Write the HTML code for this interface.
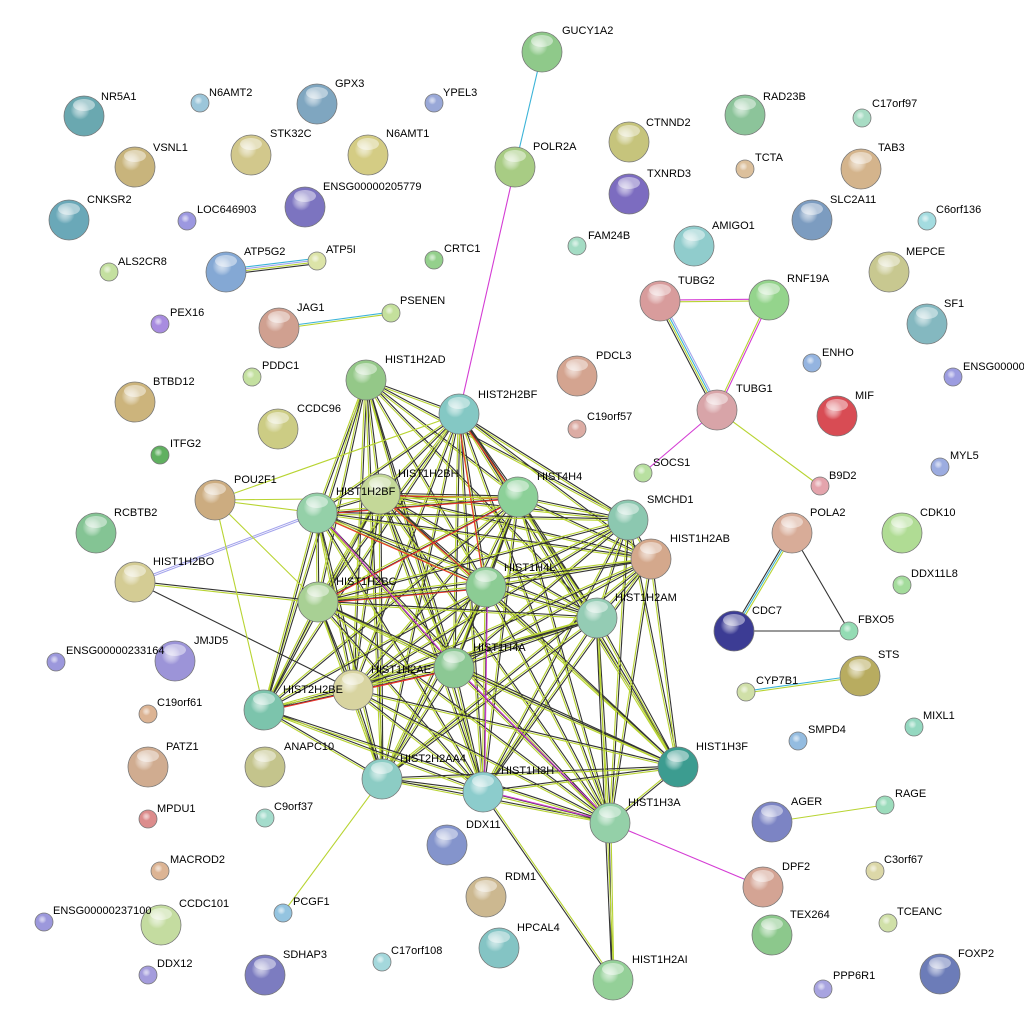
<!DOCTYPE html>
<html><head><meta charset="utf-8"><style>
html,body{margin:0;padding:0;background:#fff;}
svg{display:block;}
text{font-family:"Liberation Sans",sans-serif;font-size:11px;fill:#000;}
</style></head><body>
<svg id="s" width="1024" height="1033" viewBox="0 0 1024 1033" xmlns="http://www.w3.org/2000/svg">
<defs id="d"></defs>
<g id="e"></g>
<g id="n"></g>
<g id="t">
<text x="562" y="34">GUCY1A2</text>
<text x="101" y="100">NR5A1</text>
<text x="209" y="96">N6AMT2</text>
<text x="335" y="87">GPX3</text>
<text x="443" y="96">YPEL3</text>
<text x="763" y="100">RAD23B</text>
<text x="872" y="107">C17orf97</text>
<text x="646" y="126">CTNND2</text>
<text x="533" y="150">POLR2A</text>
<text x="270" y="137">STK32C</text>
<text x="386" y="137">N6AMT1</text>
<text x="153" y="151">VSNL1</text>
<text x="755" y="161">TCTA</text>
<text x="878" y="151">TAB3</text>
<text x="647" y="177">TXNRD3</text>
<text x="323" y="190">ENSG00000205779</text>
<text x="87" y="203">CNKSR2</text>
<text x="197" y="213">LOC646903</text>
<text x="830" y="203">SLC2A11</text>
<text x="936" y="213">C6orf136</text>
<text x="712" y="229">AMIGO1</text>
<text x="588" y="239">FAM24B</text>
<text x="244" y="255">ATP5G2</text>
<text x="326" y="253">ATP5I</text>
<text x="444" y="252">CRTC1</text>
<text x="118" y="265">ALS2CR8</text>
<text x="906" y="255">MEPCE</text>
<text x="678" y="284">TUBG2</text>
<text x="787" y="282">RNF19A</text>
<text x="400" y="304">PSENEN</text>
<text x="297" y="311">JAG1</text>
<text x="944" y="307">SF1</text>
<text x="170" y="316">PEX16</text>
<text x="262" y="369">PDDC1</text>
<text x="385" y="363">HIST1H2AD</text>
<text x="596" y="359">PDCL3</text>
<text x="822" y="356">ENHO</text>
<text x="963" y="370">ENSG00000</text>
<text x="153" y="385">BTBD12</text>
<text x="478" y="398">HIST2H2BF</text>
<text x="736" y="392">TUBG1</text>
<text x="855" y="399">MIF</text>
<text x="297" y="412">CCDC96</text>
<text x="587" y="420">C19orf57</text>
<text x="170" y="447">ITFG2</text>
<text x="653" y="466">SOCS1</text>
<text x="950" y="459">MYL5</text>
<text x="829" y="479">B9D2</text>
<text x="234" y="483">POU2F1</text>
<text x="398" y="477">HIST1H2BH</text>
<text x="537" y="480">HIST4H4</text>
<text x="336" y="495">HIST1H2BF</text>
<text x="647" y="503">SMCHD1</text>
<text x="114" y="516">RCBTB2</text>
<text x="810" y="516">POLA2</text>
<text x="920" y="516">CDK10</text>
<text x="670" y="542">HIST1H2AB</text>
<text x="153" y="565">HIST1H2BO</text>
<text x="504" y="571">HIST1H4L</text>
<text x="911" y="577">DDX11L8</text>
<text x="336" y="585">HIST1H2BC</text>
<text x="615" y="601">HIST1H2AM</text>
<text x="752" y="614">CDC7</text>
<text x="858" y="623">FBXO5</text>
<text x="194" y="644">JMJD5</text>
<text x="66" y="654">ENSG00000233164</text>
<text x="473" y="651">HIST1H4A</text>
<text x="878" y="658">STS</text>
<text x="756" y="684">CYP7B1</text>
<text x="371" y="673">HIST1H2AE</text>
<text x="283" y="693">HIST2H2BE</text>
<text x="157" y="706">C19orf61</text>
<text x="808" y="733">SMPD4</text>
<text x="923" y="719">MIXL1</text>
<text x="284" y="750">ANAPC10</text>
<text x="166" y="750">PATZ1</text>
<text x="400" y="762">HIST2H2AA4</text>
<text x="501" y="774">HIST1H3H</text>
<text x="696" y="750">HIST1H3F</text>
<text x="274" y="810">C9orf37</text>
<text x="157" y="812">MPDU1</text>
<text x="628" y="806">HIST1H3A</text>
<text x="791" y="805">AGER</text>
<text x="895" y="797">RAGE</text>
<text x="466" y="828">DDX11</text>
<text x="884" y="863">C3orf67</text>
<text x="170" y="863">MACROD2</text>
<text x="782" y="870">DPF2</text>
<text x="505" y="880">RDM1</text>
<text x="179" y="907">CCDC101</text>
<text x="53" y="914">ENSG00000237100</text>
<text x="293" y="905">PCGF1</text>
<text x="790" y="918">TEX264</text>
<text x="897" y="915">TCEANC</text>
<text x="517" y="931">HPCAL4</text>
<text x="283" y="958">SDHAP3</text>
<text x="157" y="967">DDX12</text>
<text x="391" y="954">C17orf108</text>
<text x="632" y="963">HIST1H2AI</text>
<text x="833" y="979">PPP6R1</text>
<text x="958" y="957">FOXP2</text>
</g>
</svg>
<script>
var N={
GUCY1A2:[542,52,20,'#8fc98a'],NR5A1:[84,116,20,'#6aa8b0'],N6AMT2:[200,103,9,'#9cc6da'],GPX3:[317,104,20,'#7fa6c0'],YPEL3:[434,103,9,'#99a8d8'],
RAD23B:[745,115,20,'#8cc49a'],C17orf97:[862,118,9,'#a8dcc4'],CTNND2:[629,142,20,'#c6c47c'],POLR2A:[515,167,20,'#a8cc84'],STK32C:[251,155,20,'#d2c88c'],
N6AMT1:[368,155,20,'#d4cc84'],VSNL1:[135,167,20,'#c8b47c'],TCTA:[745,169,9,'#dcc09c'],TAB3:[861,169,20,'#d4b48c'],TXNRD3:[629,194,20,'#7c6cc0'],
ENSG00000205779:[305,207,20,'#7c74c0'],CNKSR2:[69,220,20,'#6aa8b8'],LOC646903:[187,221,9,'#9c98e0'],SLC2A11:[812,220,20,'#7c9cc0'],C6orf136:[927,221,9,'#a4dce0'],
AMIGO1:[694,246,20,'#90cccc'],FAM24B:[577,246,9,'#a4dcc4'],ATP5G2:[226,272,20,'#84a8d4'],ATP5I:[317,261,9,'#dce4a8'],CRTC1:[434,260,9,'#94d08c'],
ALS2CR8:[109,272,9,'#c4e0a0'],MEPCE:[889,272,20,'#c8c890'],TUBG2:[660,301,20,'#d89c9c'],RNF19A:[769,300,20,'#94d48c'],PSENEN:[391,313,9,'#c4e09c'],
JAG1:[279,328,20,'#d0a090'],SF1:[927,324,20,'#84b8c0'],PEX16:[160,324,9,'#a88ce0'],PDDC1:[252,377,9,'#c4e0a0'],HIST1H2AD:[366,380,20,'#94c888'],
PDCL3:[577,376,20,'#d4a490'],ENHO:[812,363,9,'#94b4e0'],ENSGX:[953,377,9,'#9c9ce0'],BTBD12:[135,402,20,'#ccb47c'],HIST2H2BF:[459,414,20,'#84c8c4'],
TUBG1:[717,410,20,'#d8a4a8'],MIF:[837,416,20,'#d84c54'],CCDC96:[278,429,20,'#cccc84'],C19orf57:[577,429,9,'#dcaca4'],ITFG2:[160,455,9,'#60b060'],
SOCS1:[643,473,9,'#b8e0a0'],MYL5:[940,467,9,'#9cace0'],B9D2:[820,486,9,'#e4a4ac'],POU2F1:[215,500,20,'#ccac80'],HIST1H2BH:[380,494,20,'#c4d898'],
HIST4H4:[518,497,20,'#8cd098'],HIST1H2BF:[317,513,20,'#94d0a8'],SMCHD1:[628,520,20,'#8cc8b0'],RCBTB2:[96,533,20,'#84c494'],POLA2:[792,533,20,'#d8ac98'],
CDK10:[902,533,20,'#b0dc94'],HIST1H2AB:[651,559,20,'#d4a88c'],HIST1H2BO:[135,582,20,'#d4cc94'],HIST1H4L:[486,587,20,'#8ccc94'],DDX11L8:[902,585,9,'#a4dc9c'],
HIST1H2BC:[318,602,20,'#a8d094'],HIST1H2AM:[597,618,20,'#94ccb4'],CDC7:[734,631,20,'#3c3c94'],FBXO5:[849,631,9,'#94dcb4'],JMJD5:[175,661,20,'#9c94d8'],
ENSG00000233164:[56,662,9,'#9c98dc'],HIST1H4A:[454,668,20,'#8cc894'],STS:[860,676,20,'#b8ac60'],CYP7B1:[746,692,9,'#d0e0a8'],HIST1H2AE:[353,690,20,'#d8d4a0'],
HIST2H2BE:[264,710,20,'#7cc4ac'],C19orf61:[148,714,9,'#dcb494'],SMPD4:[798,741,9,'#94bce0'],MIXL1:[914,727,9,'#94d8c0'],ANAPC10:[265,767,20,'#c4c48c'],
PATZ1:[148,767,20,'#d0ac90'],HIST2H2AA4:[382,779,20,'#8cccc4'],HIST1H3H:[483,792,20,'#8ccccc'],HIST1H3F:[678,767,20,'#3c9c90'],C9orf37:[265,818,9,'#a4dccc'],
MPDU1:[148,819,9,'#dc8c8c'],HIST1H3A:[610,823,20,'#94d0a8'],AGER:[772,822,20,'#7c84c4'],RAGE:[885,805,9,'#9cdcbc'],DDX11:[447,845,20,'#8494cc'],
C3orf67:[875,871,9,'#dcd8a8'],MACROD2:[160,871,9,'#dcb494'],DPF2:[763,887,20,'#d4a494'],RDM1:[486,897,20,'#ccb890'],CCDC101:[161,925,20,'#c4dca0'],
ENSG00000237100:[44,922,9,'#9c98dc'],PCGF1:[283,913,9,'#94c4e0'],TEX264:[772,935,20,'#8cc88c'],TCEANC:[888,923,9,'#d0e0a8'],HPCAL4:[499,948,20,'#84c4c4'],
SDHAP3:[265,975,20,'#7c7cc0'],DDX12:[148,975,9,'#a49cdc'],C17orf108:[382,962,9,'#a4d8dc'],HIST1H2AI:[613,980,20,'#94d098'],PPP6R1:[823,989,9,'#a8a4e0'],FOXP2:[940,974,20,'#6c7cb8']};
var NS='http://www.w3.org/2000/svg',E=document.getElementById('e'),G=document.getElementById('n'),D=document.getElementById('d');
function ln(a,b,c,o,w){var A=N[a],B=N[b];var dx=B[0]-A[0],dy=B[1]-A[1],L=Math.hypot(dx,dy)||1;var px=-dy/L*o,py=dx/L*o;
var l=document.createElementNS(NS,'line');l.setAttribute('x1',A[0]+px);l.setAttribute('y1',A[1]+py);l.setAttribute('x2',B[0]+px);l.setAttribute('y2',B[1]+py);
l.setAttribute('stroke',c);l.setAttribute('stroke-width',w||1.1);E.appendChild(l);}
function multi(a,b,cs){var n=cs.length;cs.forEach(function(c,i){ln(a,b,c,(i-(n-1)/2)*1.8);});}
var K='#333',Y='#b8d432',R='#e8342c',M='#d43cd4',C='#3cb4d8',P='#a4a4ec';
var core=['HIST1H2AD','HIST2H2BF','HIST1H2BH','HIST4H4','HIST1H2BF','SMCHD1','HIST1H2AB','HIST1H4L','HIST1H2BC','HIST1H2AM','HIST1H4A','HIST1H2AE','HIST2H2BE','HIST2H2AA4','HIST1H3H','HIST1H3F','HIST1H3A'];
var skip={'HIST1H2AD|HIST1H3F':1,'HIST1H2AD|HIST1H3A':1,'HIST2H2BE|HIST1H3F':1,'HIST2H2BE|SMCHD1':1,'HIST2H2BE|HIST1H2AB':1,'HIST1H2BF|HIST1H3F':1,'HIST2H2AA4|SMCHD1':1,'HIST1H2AD|HIST1H2AB':1};
for(var i=0;i<core.length;i++)for(var j=i+1;j<core.length;j++){var a=core[i],b=core[j];if(skip[a+'|'+b]||skip[b+'|'+a])continue;multi(a,b,[K,Y]);}
var reds=[['HIST1H2BF','HIST4H4'],['HIST1H2BH','HIST1H4L'],['HIST2H2BF','HIST1H4L'],['HIST1H2BF','HIST1H4L'],['HIST1H2BC','HIST1H4L'],['HIST2H2BE','HIST1H4A'],['HIST1H2BC','HIST4H4'],['HIST1H2BH','HIST4H4'],['HIST1H2AE','HIST1H4A'],['HIST2H2BF','HIST4H4']];
reds.forEach(function(p){ln(p[0],p[1],R,1.5);});
[['HIST1H4A','HIST1H3A'],['HIST1H4L','HIST1H3H'],['HIST1H3H','HIST1H3A'],['HIST1H2BF','HIST1H4A']].forEach(function(p){ln(p[0],p[1],M,-1.5);});
multi('GUCY1A2','POLR2A',[C]);ln('POLR2A','HIST2H2BF',M,0);
multi('ATP5G2','ATP5I',[C,P,Y,K]);multi('JAG1','PSENEN',[C,Y]);
multi('TUBG2','RNF19A',[M,Y]);multi('TUBG2','TUBG1',[P,C,Y,K]);multi('RNF19A','TUBG1',[M,Y]);
ln('TUBG1','SOCS1',M,0);ln('TUBG1','B9D2',Y,0);
multi('POLA2','CDC7',[Y,C,K]);ln('POLA2','FBXO5',K,0);ln('CDC7','FBXO5',K,0);
multi('CYP7B1','STS',[C,Y]);ln('AGER','RAGE',Y,0);ln('HIST1H3A','DPF2',M,0);ln('HIST2H2AA4','PCGF1',Y,0);
multi('HIST1H2AI','HIST1H3A',[K,Y]);multi('HIST1H2AI','HIST1H3H',[K,Y]);multi('HIST1H2AI','HIST1H2AM',[K,Y]);
multi('HIST1H2BO','HIST1H2BF',[P,P]);multi('HIST1H2BO','HIST1H2BC',[K,Y]);ln('HIST1H2BO','HIST1H2AE',K,0);
multi('POU2F1','HIST1H2BF',[Y]);ln('POU2F1','HIST2H2BE',Y,0);ln('POU2F1','HIST1H2BC',Y,0);ln('POU2F1','HIST2H2BF',Y,0);ln('POU2F1','HIST4H4',Y,0);
var k=0;for(var id in N){var v=N[id];var gid='g'+(k++);
var rg=document.createElementNS(NS,'radialGradient');rg.setAttribute('id',gid);rg.setAttribute('cx','0.4');rg.setAttribute('cy','0.35');rg.setAttribute('r','0.7');
[['0','#ffffff'],['0.35',v[3]],['1',v[3]]].forEach(function(s,ix){var st=document.createElementNS(NS,'stop');st.setAttribute('offset',s[0]);st.setAttribute('stop-color',s[1]);if(ix==0)st.setAttribute('stop-opacity','0.6');rg.appendChild(st);});
D.appendChild(rg);
var c=document.createElementNS(NS,'circle');c.setAttribute('cx',v[0]);c.setAttribute('cy',v[1]);c.setAttribute('r',v[2]);c.setAttribute('fill',v[3]);c.setAttribute('stroke','#777');c.setAttribute('stroke-width','0.8');G.appendChild(c);
var c2=document.createElementNS(NS,'circle');c2.setAttribute('cx',v[0]);c2.setAttribute('cy',v[1]);c2.setAttribute('r',v[2]-0.5);c2.setAttribute('fill','url(#'+gid+')');G.appendChild(c2);
if(v[2]>15){var c3=document.createElementNS(NS,'ellipse');c3.setAttribute('cx',v[0]);c3.setAttribute('cy',v[1]-11);c3.setAttribute('rx',11);c3.setAttribute('ry',6);c3.setAttribute('fill','#fff');c3.setAttribute('opacity','0.45');G.appendChild(c3);}}
</script>
</body></html>
